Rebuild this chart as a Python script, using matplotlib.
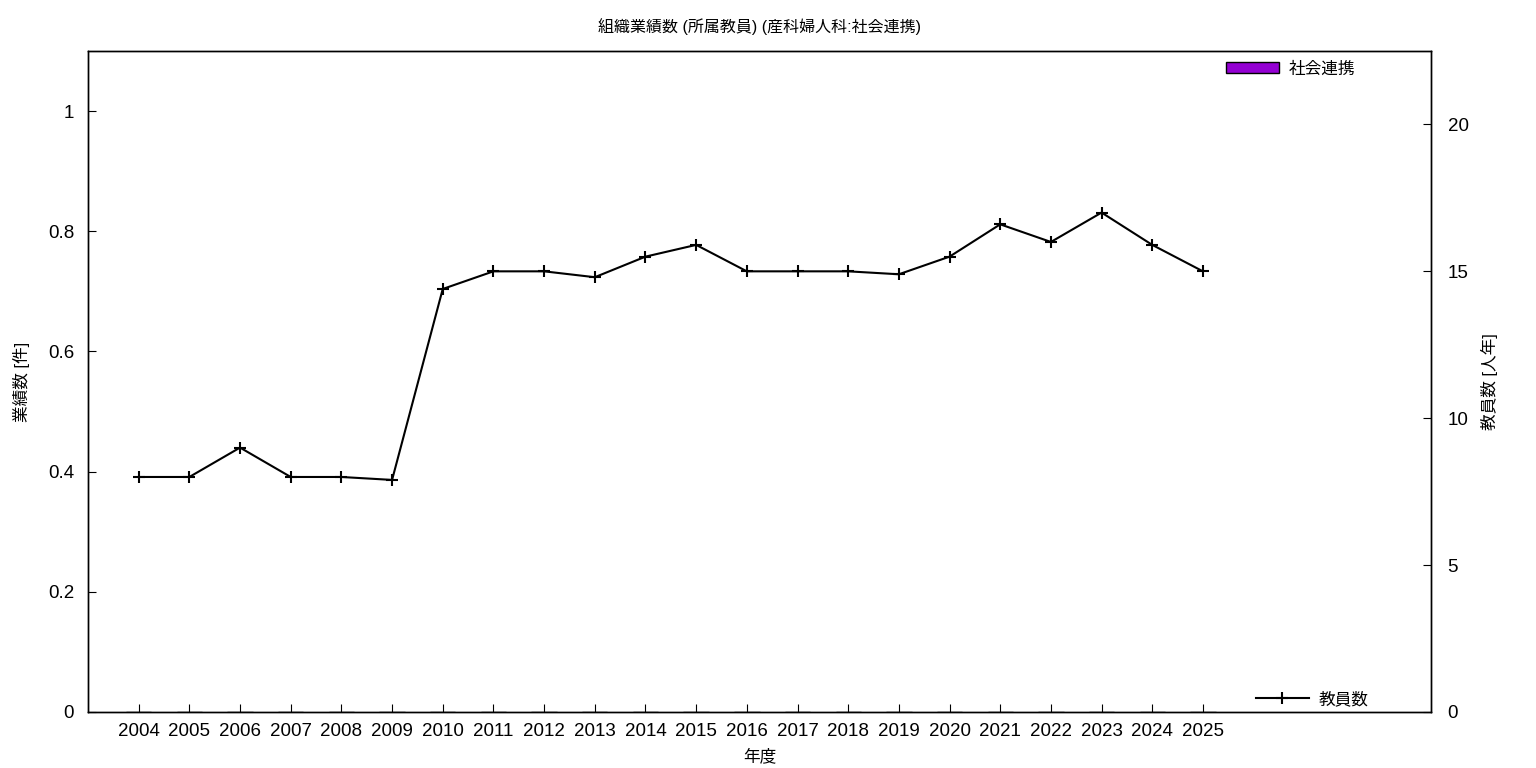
import numpy as np
import matplotlib.pyplot as plt

plt.rcParams['font.family'] = ['Liberation Sans', 'Noto Sans CJK JP', 'DejaVu Sans']

# 年度
years = ['2004', '2005', '2006', '2007', '2008', '2009', '2010', '2011', '2012', '2013', '2014',
         '2015', '2016', '2017', '2018', '2019', '2020', '2021', '2022', '2023', '2024', '2025']
# 社会連携 業績数
works = [0] * len(years)
# 教員数 [人年]
staff = [8, 8, 9, 8, 8, 7.9, 14.4, 15, 15, 14.8, 15.5,
         15.9, 15, 15, 15, 14.9, 15.5, 16.6, 16, 17, 15.9, 15]

x = np.arange(len(years))

fig = plt.figure(figsize=(15.36, 7.68), dpi=100)
ax = fig.add_axes([88/1536, 56/768, (1431-88)/1536, (712-51)/768])
ax2 = ax.twinx()

ax.bar(x, works, width=0.5, color='#9400d3', edgecolor='black', linewidth=1, label='社会連携')
ax2.plot(x, staff, color='black', lw=1.5, marker='+', ms=8, mew=1.5, label='教員数')

ax.set_xlim(-1, 25.5)
ax.set_ylim(0, 1.1)
ax2.set_ylim(0, 22.5)
ax.set_yticks(np.arange(0, 1.01, 0.2))
ax.set_yticklabels(['0', '0.2', '0.4', '0.6', '0.8', '1'])
ax2.set_yticks([0, 5, 10, 15, 20])
ax.set_xticks(x)
ax.set_xticklabels(years)

for a in (ax, ax2):
    a.tick_params(direction='in', labelsize=13.5, length=6)
    for s in a.spines.values():
        s.set_linewidth(1)
ax.tick_params(axis='x', pad=8)
ax.tick_params(axis='y', pad=10)
ax2.tick_params(axis='y', pad=12)

ax.set_xlabel('年度', fontsize=12)
ax.xaxis.set_label_coords(0.5, -0.0555)
ax.set_ylabel('業績数 [件]', fontsize=12)
ax.yaxis.set_label_coords(-0.043, 0.5)
ax2.set_ylabel('教員数 [人年]', fontsize=12)
ax2.yaxis.set_label_coords(1.0375, 0.5)
fig.suptitle('組織業績数 (所属教員) (産科婦人科:社会連携)', fontsize=11.5,
             x=759.5/1536, y=0.977)

ax.legend(loc='upper right', bbox_to_anchor=(0.955, 1.0075), frameon=False, fontsize=12,
          handlelength=3.2, handleheight=0.6, handletextpad=0.6)
ax2.legend(loc='lower right', bbox_to_anchor=(0.965, -0.0155), frameon=False, fontsize=12,
           handlelength=3.2, handletextpad=0.6)

fig.savefig('out.png', dpi=100)
